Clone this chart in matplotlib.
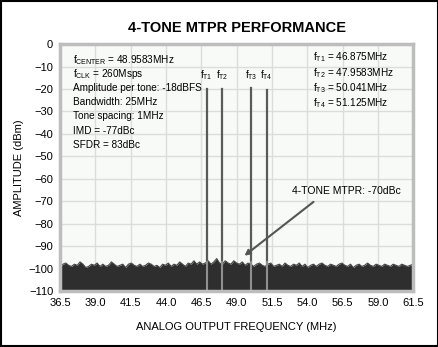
import matplotlib
matplotlib.use("Agg")
import matplotlib.pyplot as plt
import numpy as np

plt.rcParams['font.family'] = ['Liberation Sans', 'DejaVu Sans']
plt.rcParams['mathtext.fontset'] = 'custom'
plt.rcParams['mathtext.rm'] = 'Liberation Sans'
plt.rcParams['mathtext.it'] = 'Liberation Sans'

# tone data
tone_freqs = [46.875, 47.9583, 50.041, 51.125]
tone_levels = [-20, -20, -19.5, -20.5]
tone_names = ['T1', 'T2', 'T3', 'T4']

# noise floor top (dBm), read roughly every 0.2 MHz from 36.5 to 61.5
noise_top = [
    -99, -98, -97.5, -98.5, -99, -98, -98.5, -97, -98, -99.5,
    -99, -98, -98.5, -97.5, -99, -98, -99, -98.5, -97, -98,
    -99, -98.5, -98, -99.5, -98, -97.5, -98.5, -99, -98, -99,
    -98.5, -97.5, -98, -99, -98.5, -99.5, -98, -98.5, -97.5, -99,
    -98, -98.5, -97, -98, -99, -97.5, -98, -96.5, -98, -97,
    -98, -97.5, -96.5, -98, -97, -95.5, -97.5, -98, -96.5, -97.5,
    -98, -96.5, -97.5, -98, -97, -98.5, -97.5, -98, -99, -98,
    -97.5, -98.5, -99, -98, -97.5, -99, -98.5, -98, -99, -97.5,
    -98.5, -99, -98, -98.5, -97.5, -99, -98, -99.5, -98.5, -98,
    -99, -98, -97.5, -98.5, -99, -98, -98.5, -99, -98, -97.5,
    -98.5, -99, -98, -99.5, -98.5, -98, -99, -98.5, -97.5, -98.5,
    -99, -98, -98.5, -99, -98, -98.5, -99, -98, -98.5, -99,
    -98, -98.5, -99, -98.5, -98,
]
noise_freq = np.linspace(36.5, 61.5, len(noise_top))

xticks = [36.5, 39.0, 41.5, 44.0, 46.5, 49.0, 51.5, 54.0, 56.5, 59.0, 61.5]
yticks = list(range(0, -120, -10))

fig = plt.figure(figsize=(4.39, 3.47), dpi=100)
ax = fig.add_axes([0.137, 0.161, 0.804, 0.712])
ax.set_facecolor('#f8faf7')

ax.fill_between(noise_freq, -110, noise_top, color='#2e2e2e', lw=0)
ax.plot(noise_freq, noise_top, color='#444444', lw=0.8)
for f, lv in zip(tone_freqs, tone_levels):
    ax.plot([f, f], [-110, lv], color='#5a5a5a', lw=1.6)
    ax.plot([f, f], [-110, -97], color='#9a9a9a', lw=1.2)

ax.set_xlim(36.5, 61.5)
ax.set_ylim(-110, 0)
ax.set_xticks(xticks)
ax.set_xticklabels(['%.1f' % x for x in xticks])
ax.set_yticks(yticks)
ax.tick_params(length=0, labelsize=8, pad=5)
ax.grid(True, color='#dcdcdc', lw=1)
ax.set_axisbelow(True)
for s in ax.spines.values():
    s.set_color('#bdbdbd')
    s.set_linewidth(2.5)

ax.set_xlabel('ANALOG OUTPUT FREQUENCY (MHz)', fontsize=8, labelpad=10)
ax.set_ylabel('AMPLITUDE (dBm)', fontsize=8, labelpad=3)
fig.text(0.54, 0.92, '4-TONE MTPR PERFORMANCE', ha='center', va='center',
         fontsize=10.5, fontweight='bold')

left_lines = [
    r'f$_{\mathrm{CENTER}}$ = 48.9583MHz',
    r'f$_{\mathrm{CLK}}$ = 260Msps',
    'Amplitude per tone: -18dBFS',
    'Bandwidth: 25MHz',
    'Tone spacing: 1MHz',
    'IMD = -77dBc',
    'SFDR = 83dBc',
]
for i, t in enumerate(left_lines):
    ax.text(37.4, -7 - i * 6.3, t, fontsize=7.2, va='center', ha='left')

right_lines = [r'f$_{\mathrm{%s}}$ = %s' % (n, v) for n, v in
               zip(tone_names, ['46.875MHz', '47.9583MHz', '50.041MHz', '51.125MHz'])]
for i, t in enumerate(right_lines):
    ax.text(54.4, -6 - i * 6.8, t, fontsize=7.2, va='center', ha='left')

for f, n in zip(tone_freqs, tone_names):
    ax.text(f, -14, r'f$_{\mathrm{%s}}$' % n, fontsize=7, ha='center', va='center')

ax.annotate('', xy=(49.4, -95), xytext=(54.6, -69.5),
            arrowprops=dict(arrowstyle='-|>', color='#555555', lw=1.5,
                            mutation_scale=8))
ax.text(52.9, -65.5, '4-TONE MTPR: -70dBc', fontsize=7.5, ha='left', va='center')

fig.patches.append(plt.Rectangle((0.002, 0.003), 0.995, 0.994, transform=fig.transFigure,
                                 fill=False, edgecolor='black', lw=1.5))
fig.savefig('out.png', dpi=100)
